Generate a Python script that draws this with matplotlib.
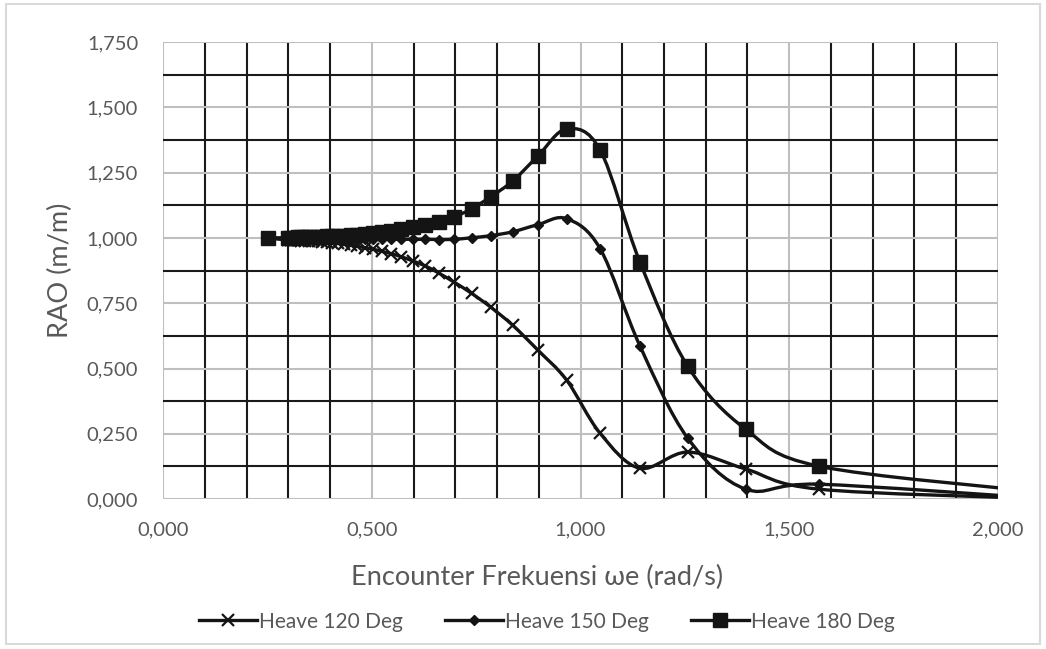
import numpy as np
import matplotlib.pyplot as plt
from matplotlib.path import Path
from matplotlib.patches import PathPatch, Rectangle
from matplotlib.lines import Line2D
from matplotlib.ticker import MultipleLocator, FuncFormatter

plt.rcParams['font.family'] = ['Lato', 'DejaVu Sans']

# encounter frequency (rad/s), shared by all three headings
omega_e = [0.251, 0.299, 0.306, 0.314, 0.322, 0.331, 0.340, 0.349, 0.359, 0.370,
           0.381, 0.393, 0.405, 0.419, 0.433, 0.449, 0.465, 0.483, 0.503, 0.524,
           0.546, 0.571, 0.598, 0.628, 0.661, 0.698, 0.739, 0.785, 0.838, 0.898,
           0.967, 1.047, 1.142, 1.257, 1.396, 1.571, 2.094]

heave_120 = [1.000, 0.992, 0.992, 0.991, 0.991, 0.990, 0.990, 0.989, 0.988, 0.987,
             0.986, 0.984, 0.982, 0.979, 0.976, 0.972, 0.968, 0.963, 0.957, 0.949,
             0.940, 0.928, 0.912, 0.893, 0.865, 0.830, 0.788, 0.735, 0.665, 0.570,
             0.455, 0.252, 0.118, 0.180, 0.115, 0.038, 0.002]

heave_150 = [1.000, 1.000, 1.000, 1.000, 1.000, 1.000, 1.000, 0.999, 0.999, 0.999,
             0.999, 0.998, 0.998, 0.998, 0.997, 0.997, 0.997, 0.996, 0.996, 0.996,
             0.995, 0.995, 0.995, 0.995, 0.994, 0.995, 1.001, 1.009, 1.024, 1.051,
             1.074, 0.959, 0.588, 0.233, 0.038, 0.057, 0.004]

heave_180 = [1.000, 1.000, 1.001, 1.001, 1.002, 1.002, 1.003, 1.003, 1.004, 1.004,
             1.005, 1.006, 1.007, 1.008, 1.009, 1.011, 1.013, 1.015, 1.018, 1.022,
             1.027, 1.033, 1.041, 1.051, 1.062, 1.081, 1.112, 1.158, 1.219, 1.314,
             1.418, 1.337, 0.909, 0.508, 0.267, 0.126, 0.028]

series = [("Heave 120 Deg", heave_120, 'x', 9, 1.6),
          ("Heave 150 Deg", heave_150, 'D', 5.5, 1.0),
          ("Heave 180 Deg", heave_180, 's', 10.5, 1.0)]

ink = '#141414'
text_col = '#595959'


def smooth_path(x, y):
    # Excel-like smoothed line: cubic bezier through every point
    pts = np.column_stack([x, y])
    n = len(pts)
    verts = [pts[0]]
    codes = [Path.MOVETO]
    for i in range(n - 1):
        p0 = pts[max(i - 1, 0)]
        p1 = pts[i]
        p2 = pts[i + 1]
        p3 = pts[min(i + 2, n - 1)]
        c1 = p1 + (p2 - p0) / 6.0
        c2 = p2 - (p3 - p1) / 6.0
        verts += [c1, c2, p2]
        codes += [Path.CURVE4] * 3
    return Path(verts, codes)


fig = plt.figure(figsize=(10.46, 6.49), dpi=100)
ax = fig.add_axes([0.156, 0.231, 0.798, 0.704])

ax.set_xlim(0, 2.0)
ax.set_ylim(0, 1.75)
ax.xaxis.set_major_locator(MultipleLocator(0.5))
ax.xaxis.set_minor_locator(MultipleLocator(0.1))
ax.yaxis.set_major_locator(MultipleLocator(0.25))
ax.yaxis.set_minor_locator(MultipleLocator(0.125))
fmt = FuncFormatter(lambda v, p: f"{v:.3f}".replace('.', ','))
ax.xaxis.set_major_formatter(fmt)
ax.yaxis.set_major_formatter(fmt)

ax.grid(which='minor', color='#1a1a1a', lw=1.5)
ax.grid(which='major', color='#bfbfbf', lw=1.5)
ax.set_axisbelow(True)
for s in ax.spines.values():
    s.set_visible(False)
ax.tick_params(which='both', length=0)
ax.tick_params(axis='both', labelsize=14.5, labelcolor=text_col)
ax.tick_params(axis='x', pad=16)
ax.tick_params(axis='y', pad=18)

handles = []
for label, vals, mk, ms, mew in series:
    patch = PathPatch(smooth_path(omega_e, vals), fill=False, ec=ink, lw=2.4,
                      capstyle='round', joinstyle='round', zorder=3)
    ax.add_patch(patch)
    ax.plot(omega_e, vals, ls='none', marker=mk, ms=ms, mew=mew,
            color=ink, mec=ink, zorder=4)
    handles.append(Line2D([], [], color=ink, lw=2.4, marker=mk, ms=ms,
                          mew=mew, label=label))

ax.set_xlabel("Encounter Frekuensi ωe (rad/s)", fontsize=19.5, color=text_col)
ax.xaxis.set_label_coords(0.448, -0.145)
ax.set_ylabel("RAO (m/m)", fontsize=19.5, color=text_col)
ax.yaxis.set_label_coords(-0.108, 0.5)

fig.legend(handles=handles, loc='center', bbox_to_anchor=(0.523, 0.042),
           ncol=3, frameon=False, fontsize=15, labelcolor=text_col,
           handlelength=2.8, handletextpad=0.1, columnspacing=2.0)

fig.patches.append(Rectangle((0.006, 0.008), 0.988, 0.986, transform=fig.transFigure,
                             fill=False, ec='#d9d9d9', lw=1.5))

fig.savefig('out.png', dpi=100)
